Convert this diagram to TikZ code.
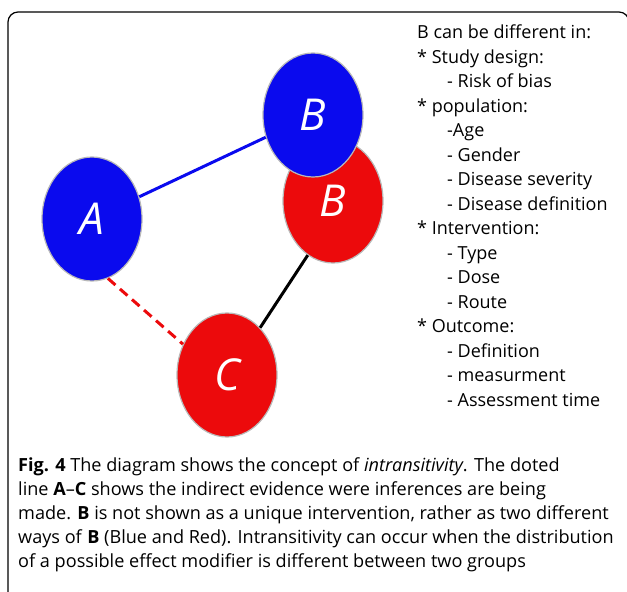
\documentclass[tikz,border=0pt]{standalone}
\usepackage{fontspec}
\setmainfont{Open Sans}
\usetikzlibrary{shapes.geometric}
\definecolor{nodeblue}{RGB}{10,10,238}
\definecolor{nodered}{RGB}{236,10,12}
\newcommand{\itemind}{\hspace*{30pt}}
\tikzset{
  blob/.style={ellipse, minimum width=100pt, minimum height=124pt, inner sep=0pt,
    draw=gray!55, line width=1.2pt, text=white,
    font=\fontsize{44}{44}\selectfont\itshape},
  link/.style={line width=3pt}
}

\begin{document}
\begin{tikzpicture}[x=1pt,y=-1pt]
	\useasboundingbox (0,0) rectangle (627,592);
	\clip (0,0) rectangle (627,592);
	\draw[line width=1.2pt, rounded corners=10pt] (8,12) rectangle (629,640);
	% the two versions of B
	\node[blob, fill=nodered] (br) at (333,201) {B};
	\node[blob, fill=nodeblue] (bb) at (313,115) {B};
	\node[blob, fill=nodeblue] (a) at (92,219) {A};
	\node[blob, fill=nodered] (c) at (227,375) {C};
	\draw[link, nodeblue] (a) to (bb);
	\draw[link, nodered, dash pattern=on 10pt off 6pt] (a.-75) to (c.145);
	\draw[link, black] (br.-115) to (c.55);
	% list of modifiers
	\node[anchor=north west, align=left, inner sep=0pt,
		font=\fontsize{18}{24.5}\selectfont] (list) at (417,25) {%
		B can be different in:\\
		* Study design:\\
		\itemind- Risk of bias\\
		* population:\\
		\itemind-Age\\
		\itemind- Gender\\
		\itemind- Disease severity\\
		\itemind- Disease definition\\
		* Intervention:\\
		\itemind- Type\\
		\itemind- Dose\\
		\itemind- Route\\
		* Outcome:\\
		\itemind- Definition\\
		\itemind- measurment\\
		\itemind- Assessment time};
	% caption
	\node[anchor=north west, align=left, inner sep=0pt,
		font=\fontsize{18.1}{24.2}\selectfont] (caption) at (18,457) {%
		\textbf{Fig. 4} The diagram shows the concept of \textit{intransitivity}. The doted\\
		line \textbf{A}--\textbf{C} shows the indirect evidence were inferences are being\\
		made. \textbf{B} is not shown as a unique intervention, rather as two different\\
		ways of \textbf{B} (Blue and Red). Intransitivity can occur when the distribution\\
		of a possible effect modifier is different between two groups};
\end{tikzpicture}
\end{document}
